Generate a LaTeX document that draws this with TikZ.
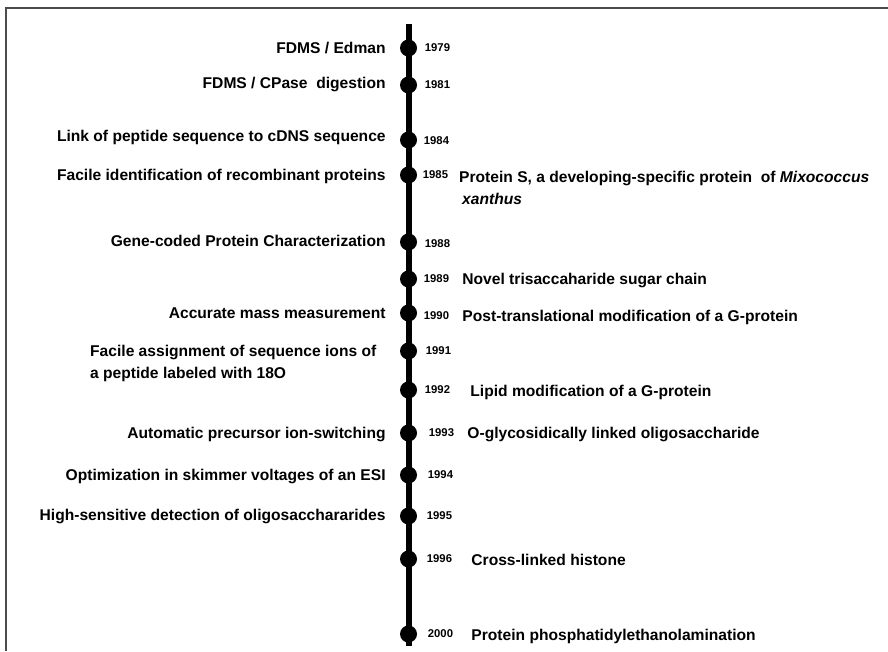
\documentclass[tikz,border=0pt]{standalone}
\usepackage{fontspec}
\setmainfont{Liberation Sans}
\usetikzlibrary{positioning}

\begin{document}
\begin{tikzpicture}[x=1pt,y=-1pt,
  dot/.style={circle,fill=black,inner sep=0pt,minimum size=17pt},
  yr/.style={inner sep=0pt,font=\bfseries\fontsize{11.3}{13}\selectfont},
  lbl/.style={inner sep=0pt,text height=11pt,text depth=1pt,
    font=\bfseries\fontsize{15.6}{22}\selectfont},
  lbltwo/.style={inner sep=0pt,align=left,
    font=\bfseries\fontsize{15.6}{22}\selectfont}]
\useasboundingbox (0,0) rectangle (888,651);

% frame
\draw[line width=1.2pt, black!70] (6,651) -- (6,8) -- (888,8);

% time axis
\coordinate (top) at (409,24);
\coordinate (bot) at (409,646);
\draw[line width=5.5pt] (top) -- (bot);

\node[dot] (d1979) at (408.5,48) {};
\node[dot] (d1981) at (408.5,85) {};
\node[dot] (d1984) at (408.5,140) {};
\node[dot] (d1985) at (408.5,175) {};
\node[dot] (d1988) at (408.5,242) {};
\node[dot] (d1989) at (408.5,279) {};
\node[dot] (d1990) at (408.5,313) {};
\node[dot] (d1991) at (408.5,351) {};
\node[dot] (d1992) at (408.5,390) {};
\node[dot] (d1993) at (408.5,433) {};
\node[dot] (d1994) at (408.5,475) {};
\node[dot] (d1995) at (408.5,516) {};
\node[dot] (d1996) at (408.5,559) {};
\node[dot] (d2000) at (408.5,634) {};

% years
\node[yr, right=7.5pt of d1979] (y1979) {1979};
\node[yr, right=7.5pt of d1981] (y1981) {1981};
\node[yr, right=6.5pt of d1984, yshift=-1pt] (y1984) {1984};
\node[yr, right=5.5pt of d1985] (y1985) {1985};
\node[yr, right=7.5pt of d1988, yshift=-2pt] (y1988) {1988};
\node[yr, right=6.5pt of d1989] (y1989) {1989};
\node[yr, right=6.5pt of d1990, yshift=-3pt] (y1990) {1990};
\node[yr, right=8.5pt of d1991] (y1991) {1991};
\node[yr, right=7.5pt of d1992] (y1992) {1992};
\node[yr, right=11.5pt of d1993] (y1993) {1993};
\node[yr, right=10.5pt of d1994] (y1994) {1994};
\node[yr, right=9.5pt of d1995] (y1995) {1995};
\node[yr, right=9.5pt of d1996] (y1996) {1996};
\node[yr, right=10.5pt of d2000] (y2000) {2000};

% methods (left)
\node[lbl, left=14pt of d1979] (l1979) {FDMS / Edman};
\node[lbl, left=14pt of d1981, yshift=2pt] (l1981) {FDMS / CPase\ \ digestion};
\node[lbl, left=14pt of d1984, yshift=4pt] (l1984) {Link of peptide sequence to cDNS sequence};
\node[lbl, left=14pt of d1985] (l1985) {Facile identification of recombinant proteins};
\node[lbl, left=14pt of d1988, yshift=1pt] (l1988) {Gene-coded Protein Characterization};
\node[lbl, left=14pt of d1990] (l1990) {Accurate mass measurement};
\node[lbltwo, anchor=north west] (l1991) at (90,345)
  {Facile assignment of sequence ions of\\a peptide labeled with 18O};
\node[lbl, left=14pt of d1993] (l1993) {Automatic precursor ion-switching};
\node[lbl, left=14pt of d1994] (l1994) {Optimization in skimmer voltages of an ESI};
\node[lbl, left=14pt of d1995, yshift=1pt] (l1995) {High-sensitive detection of oligosacchararides};

% applications (right)
\node[lbltwo, anchor=north west] (r1985) at (459,170.5)
  {Protein S, a developing-specific protein\ \ of \textit{Mixococcus}\\
   \hspace*{3pt}\textit{xanthus}};
\node[lbl, right=13pt of y1989] (r1989) {Novel trisaccaharide sugar chain};
\node[lbl, right=13pt of y1990] (r1990) {Post-translational modification of a G-protein};
\node[lbl, right=20pt of y1992, yshift=-1pt] (r1992) {Lipid modification of a G-protein};
\node[lbl, right=13pt of y1993] (r1993) {O-glycosidically linked oligosaccharide};
\node[lbl, right=19pt of y1996, yshift=-1pt] (r1996) {Cross-linked histone};
\node[lbl, right=18pt of y2000, yshift=-1pt] (r2000) {Protein phosphatidylethanolamination};
\end{tikzpicture}
\end{document}
